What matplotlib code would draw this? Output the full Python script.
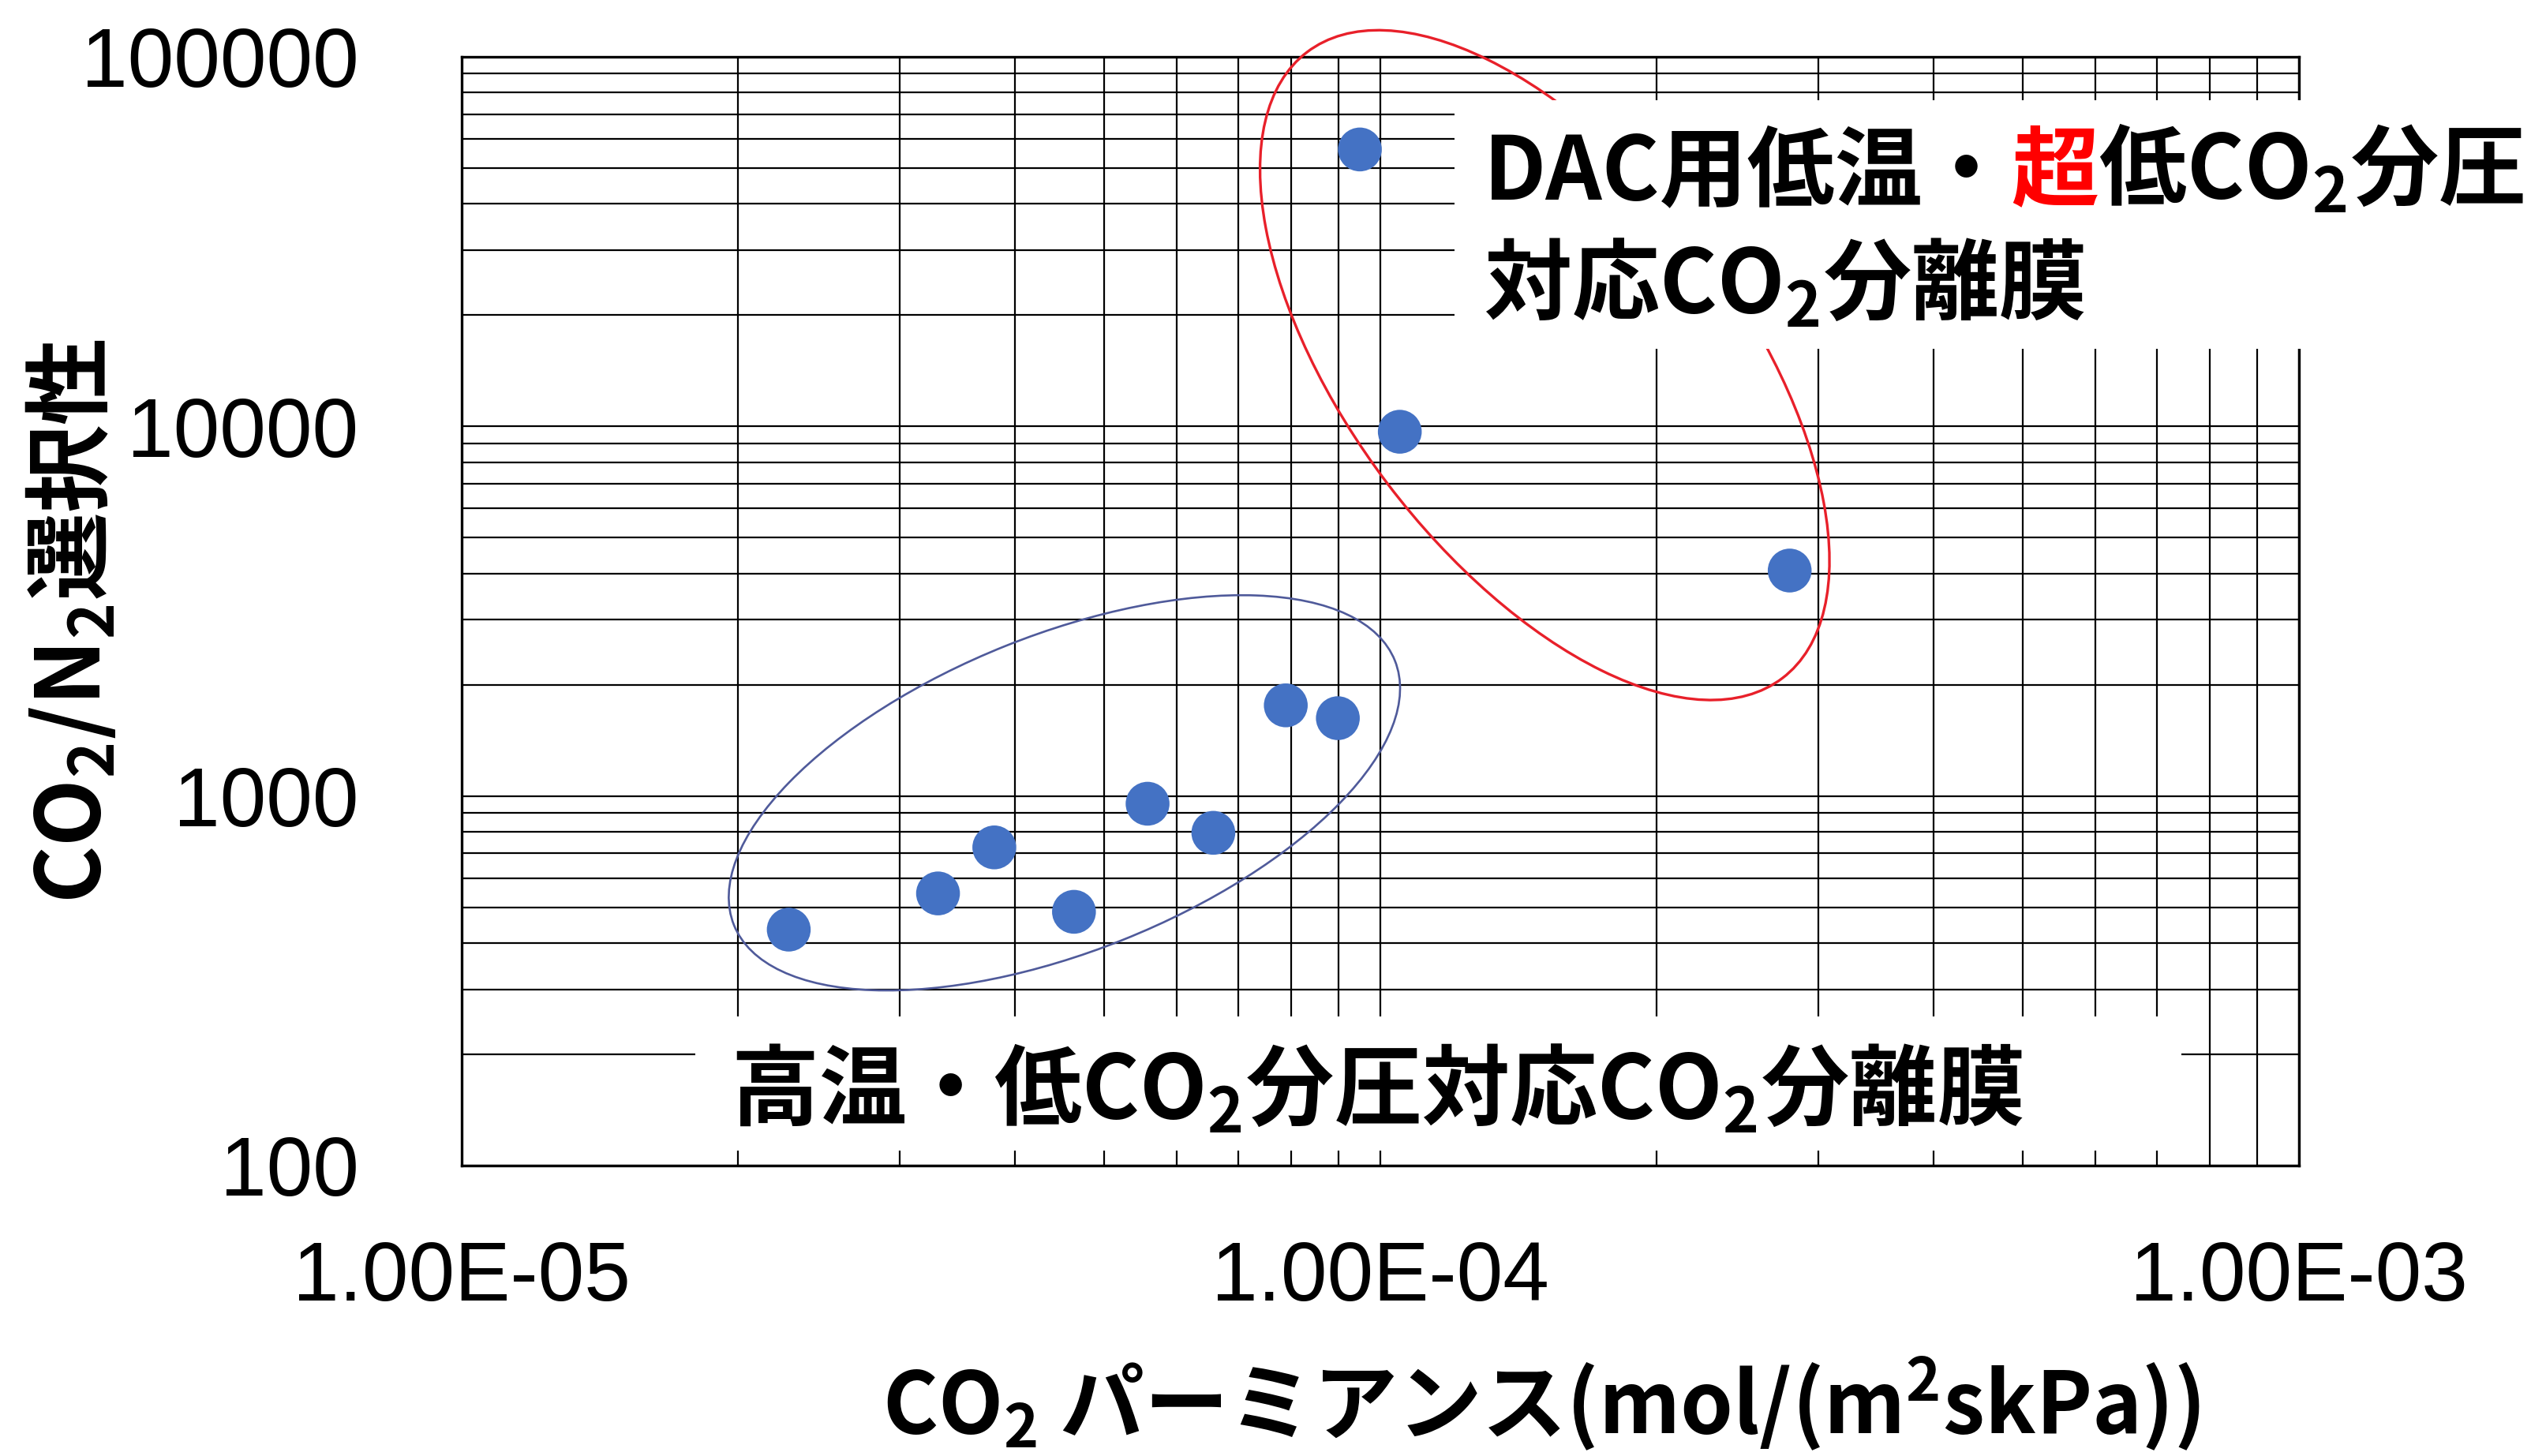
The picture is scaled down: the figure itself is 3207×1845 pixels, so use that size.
import matplotlib
matplotlib.use("Agg")
import matplotlib.pyplot as plt
from matplotlib.patches import Ellipse, Rectangle
from matplotlib.transforms import ScaledTranslation
from matplotlib.ticker import FixedLocator, LogLocator, NullFormatter
from matplotlib.font_manager import FontProperties, findfont, get_font

plt.rcParams['font.family'] = ['Liberation Sans', 'DejaVu Sans']
plt.rcParams['mathtext.fontset'] = 'custom'
plt.rcParams['mathtext.rm'] = 'Noto Sans CJK JP'
plt.rcParams['mathtext.bf'] = 'Noto Sans CJK JP:bold'

# data
permeance = [2.27e-5, 3.30e-5, 3.80e-5, 4.64e-5, 5.58e-5, 6.58e-5,
             7.89e-5, 8.99e-5, 9.50e-5, 1.05e-4, 2.79e-4]
selectivity = [435, 545, 726, 486, 953, 795, 1759, 1624, 56150, 9673, 4074]

x_ticks = [1e-5, 1e-4, 1e-3]
x_tick_labels = ['1.00E-05', '1.00E-04', '1.00E-03']
y_ticks = [100, 1000, 10000, 100000]
y_tick_labels = ['100', '1000', '10000', '100000']

x_label = 'CO$_\\mathbf{2}$ パーミアンス(mol/(m$^\\mathbf{2}$skPa))'
y_label = 'CO$_\\mathbf{2}$/N$_\\mathbf{2}$選択性'
label_hi_a = 'DAC用低温・'
label_hi_red = '超'
label_hi_b = '低CO$_\\mathbf{2}$分圧'
label_hi_2 = '対応CO$_\\mathbf{2}$分離膜'
label_lo = '高温・低CO$_\\mathbf{2}$分圧対応CO$_\\mathbf{2}$分離膜'

W, H = 3207, 1845
fig = plt.figure(figsize=(W / 100, H / 100), dpi=100)
ax = fig.add_axes([585 / W, 1 - 1477 / H, 2328 / W, 1405 / H])

ax.scatter(permeance, selectivity, s=1600, color='#4472C4', edgecolors='none', zorder=3)

ax.set_xscale('log')
ax.set_yscale('log')
ax.set_xlim(1e-5, 1e-3)
ax.set_ylim(100, 100000)
ax.xaxis.set_major_locator(FixedLocator(x_ticks))
ax.yaxis.set_major_locator(FixedLocator(y_ticks))
ax.set_xticklabels(x_tick_labels)
ax.set_yticklabels(y_tick_labels)
ax.xaxis.set_minor_locator(LogLocator(base=10, subs=range(2, 10)))
ax.yaxis.set_minor_locator(LogLocator(base=10, subs=range(2, 10)))
ax.xaxis.set_minor_formatter(NullFormatter())
ax.yaxis.set_minor_formatter(NullFormatter())
ax.tick_params(which='both', length=0)
ax.tick_params(axis='x', labelsize=76, pad=68)
ax.tick_params(axis='y', labelsize=76, pad=94)
ax.grid(which='both', color='black', lw=1.6)
ax.set_axisbelow(True)
for sp in ax.spines.values():
    sp.set_linewidth(2.4)

# group ellipses: centre in data coords, size in inches
def ring(cx, cy, w, h, ang, col, lw):
    tr = fig.dpi_scale_trans + ScaledTranslation(cx, cy, ax.transData)
    ax.add_patch(Ellipse((0, 0), w, h, angle=ang, transform=tr, fill=False,
                         edgecolor=col, lw=lw, zorder=4, clip_on=False))

ring(4.53e-5, 1020, 9.02, 4.01, 21.8, '#4F5A9A', 1.9)
ring(1.51e-4, 14650, 9.96, 4.99, -52.8, '#E8202A', 2.4)

# white boxes behind the annotations
fig.add_artist(Rectangle((1843 / W, 1 - 442 / H), (W - 1843) / W, 315 / H,
                         transform=fig.transFigure, facecolor='white',
                         edgecolor='none', zorder=5))
fig.add_artist(Rectangle((881 / W, 1 - 1458 / H), 1883 / W, 170 / H,
                         transform=fig.transFigure, facecolor='white',
                         edgecolor='none', zorder=5))

fs = 80
jp = dict(family='Noto Sans CJK JP', weight='bold', fontsize=fs, zorder=6)

# pen advance of a plain string, to put the red character in place
ft = get_font(findfont(FontProperties(family='Noto Sans CJK JP', weight='bold')))
ft.set_size(fs, fig.dpi)
def adv(s):
    return sum(ft.load_char(ord(c)).linearHoriAdvance for c in s) / 65536

x0, y1, y2 = 1880, 252, 397
fig.text(x0 / W, 1 - y1 / H, label_hi_a, va='baseline', **jp)
xa = x0 + adv(label_hi_a)
fig.text(xa / W, 1 - y1 / H, label_hi_red, va='baseline', color='#FF0000', **jp)
xb = xa + adv(label_hi_red)
fig.text(xb / W, 1 - y1 / H, label_hi_b, va='baseline', **jp)
fig.text(x0 / W, 1 - y2 / H, label_hi_2, va='baseline', **jp)

fig.text(926 / W, 1 - 1418 / H, label_lo, va='baseline', **jp)

jp_x = dict(jp, fontsize=77)
fig.text(1953 / W, 1 - 1779 / H, x_label, ha='center', va='center', **jp_x)
fig.text(92 / W, 1 - 787 / H, y_label, ha='center', va='center', rotation=90, **jp)

fig.savefig('out.png', dpi=100, facecolor='white')
